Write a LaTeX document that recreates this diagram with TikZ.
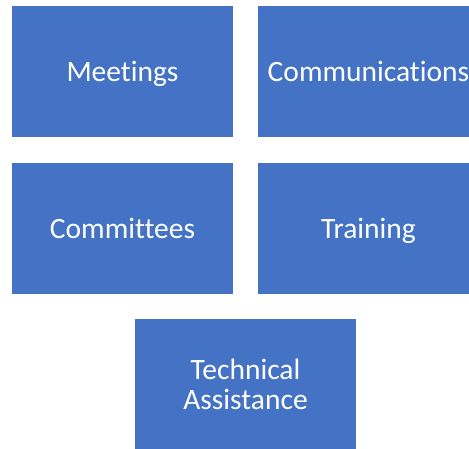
\documentclass[tikz,border=0pt]{standalone}
\usepackage{fontspec}
\setmainfont[Ligatures=NoCommon]{Carlito}
\definecolor{officeblue}{HTML}{4472C4}
\tikzset{
  topic/.style={fill=officeblue, draw=none, text=white, inner sep=0pt,
    minimum width=221pt, minimum height=131pt, align=center,
    font=\fontsize{29.5}{30}\selectfont},
  oneline/.style={topic, text height=19pt, text depth=0pt}
}
\begin{document}
\begin{tikzpicture}[x=1pt, y=-1pt]
  \useasboundingbox (0,0) rectangle (469,448);
  \clip (0,0) rectangle (469,448);
  \begin{scope}[every node/.style={oneline}]
    \node (meet) at (122.5,71.5) {Meetings} ;
    \node (comm) at (368.5,71.5) {Communications} ;
    \node (cmte) at (122.5,228.5) {Committees} ;
    \node (train) at (368.5,228.5) {Training} ;
  \end{scope}
  \node[topic] (tech) at (245.5,384.5) {Technical\\Assistance} ;
\end{tikzpicture}
\end{document}
